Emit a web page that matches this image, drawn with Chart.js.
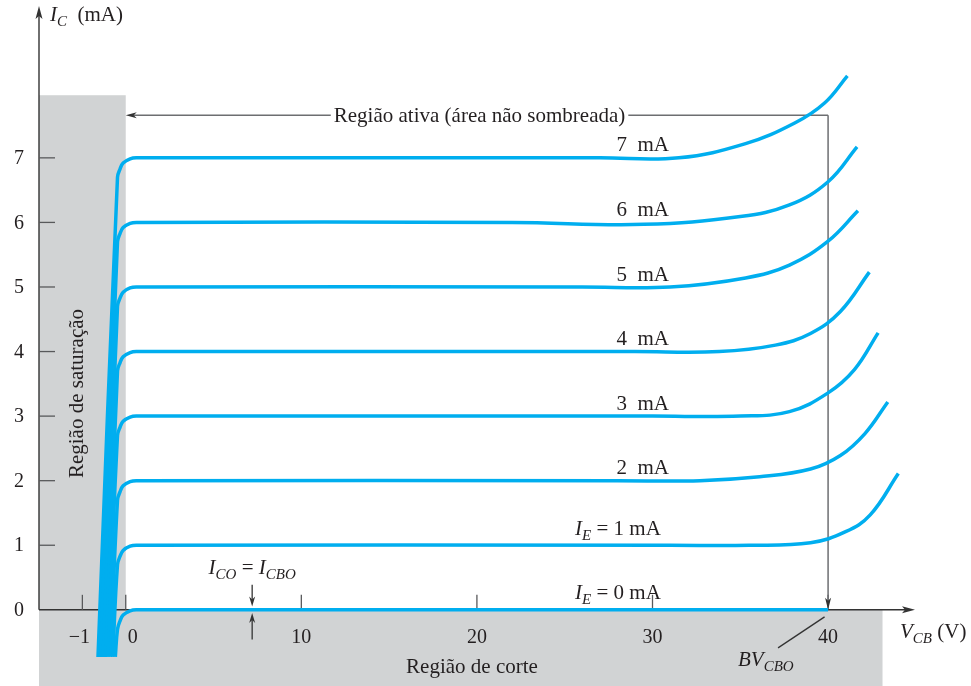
<!DOCTYPE html>
<html>
<head>
<meta charset="utf-8">
<script src="https://cdn.jsdelivr.net/npm/chart.js@4"></script>
<style>
  html, body { margin: 0; padding: 0; background: #fff; }
  #wrap { width: 971px; height: 686px; position: relative; }
</style>
</head>
<body>
<div id="wrap"><canvas id="c"></canvas></div>
<script>
// Common-base output characteristics: I_C (mA) vs V_CB (V), one curve per I_E.
// Each point is [V_CB, I_C].
const IE_LEVELS = [0, 1, 2, 3, 4, 5, 6, 7];

const curveIE0 = [[-0.24,-0.73],[-0.19,-0.30],[-0.13,-0.17],[-0.06,-0.08],[0.25,-0.015],[0.6,0],[40,0]];
const curveIE1 = [[-0.30,-0.73],[-0.19,0.70],[-0.13,0.83],[-0.06,0.92],[0.25,0.985],[0.6,1],[31,1],[35.5,1],[39.0,1.04],[41.0,1.21],[42.4,1.47],[44.0,2.11]];
const curveIE2 = [[-0.35,-0.73],[-0.19,1.70],[-0.13,1.83],[-0.06,1.92],[0.25,1.985],[0.6,2],[28,2],[32.7,2],[36.1,2.06],[39.0,2.18],[40.7,2.39],[42.1,2.73],[43.4,3.22]];
const curveIE3 = [[-0.41,-0.73],[-0.19,2.70],[-0.13,2.83],[-0.06,2.92],[0.25,2.985],[0.6,3],[30,3],[35.0,3],[37.8,3.07],[40.0,3.36],[41.5,3.72],[42.85,4.29]];
const curveIE4 = [[-0.46,-0.73],[-0.19,3.70],[-0.13,3.83],[-0.06,3.92],[0.25,3.985],[0.6,4],[29,4],[33.8,4],[37.0,4.10],[39.0,4.28],[40.7,4.62],[42.35,5.23]];
const curveIE5 = [[-0.52,-0.73],[-0.19,4.70],[-0.13,4.83],[-0.06,4.92],[0.25,4.985],[0.6,5],[26,5],[31.0,5],[35.3,5.14],[37.8,5.34],[40.0,5.71],[41.7,6.18]];
const curveIE6 = [[-0.58,-0.73],[-0.19,5.70],[-0.13,5.83],[-0.06,5.92],[0.25,5.985],[0.6,6],[22,6],[29.5,5.97],[35.0,6.09],[37.8,6.27],[40.0,6.63],[41.65,7.17]];
const curveIE7 = [[-0.64,-0.73],[-0.19,6.70],[-0.13,6.83],[-0.06,6.92],[0.25,6.985],[0.6,7],[27,7],[31.5,7],[35.3,7.22],[38.1,7.54],[39.8,7.85],[41.1,8.27]];
const CURVES = [curveIE0, curveIE1, curveIE2, curveIE3, curveIE4, curveIE5, curveIE6, curveIE7];

const X_TICKS = [-1, 0, 10, 20, 30, 40];
const Y_TICKS = [0, 1, 2, 3, 4, 5, 6, 7];

const SAT_TOP = 7.97;       // shaded saturation block top (mA)
const CUTOFF_RIGHT = 43.1;  // shaded cut-off strip right end (V)
const BV_CBO = 40;          // breakdown voltage (V)
const ICO_AT = 7.2;         // where the I_CO arrows point (V)

// the figure draws the negative V_CB side stretched
const NEG_STRETCH = 2.47;
const toAxis = v => v < 0 ? v * NEG_STRETCH : v;

const BLUE  = '#00aeef';
const SHADE = '#d1d3d4';
const INK   = '#231f20';
const SERIF = '"Liberation Serif", "Times New Roman", serif';

const fontOf = (size, italic) => `${italic ? 'italic ' : ''}${size}px ${SERIF}`;

// parts: [text, style]  style '' normal, 'i' italic, 's' italic subscript
function richText(ctx, parts, x, y, align) {
  const f = p => p[1] === 's' ? fontOf(15, true) : fontOf(21, p[1] === 'i');
  let w = 0;
  parts.forEach(p => { ctx.font = f(p); w += ctx.measureText(p[0]).width; });
  let cx = align === 'center' ? x - w / 2 : align === 'right' ? x - w : x;
  ctx.textAlign = 'left';
  ctx.textBaseline = 'alphabetic';
  parts.forEach(p => {
    ctx.font = f(p);
    ctx.fillText(p[0], cx, y + (p[1] === 's' ? 5 : 0));
    cx += ctx.measureText(p[0]).width;
  });
}

function arrowHead(ctx, x, y, ang, len, half) {
  ctx.save();
  ctx.translate(x, y);
  ctx.rotate(ang);
  ctx.beginPath();
  ctx.moveTo(0, 0);
  ctx.lineTo(-len, -half);
  ctx.lineTo(-len + 3, 0);
  ctx.lineTo(-len, half);
  ctx.closePath();
  ctx.fill();
  ctx.restore();
}

function line(ctx, x1, y1, x2, y2) {
  ctx.beginPath();
  ctx.moveTo(x1, y1);
  ctx.lineTo(x2, y2);
  ctx.stroke();
}

const figurePlugin = {
  id: 'figure',
  beforeDatasetsDraw(chart) {
    const { ctx, chartArea: a, scales } = chart;
    const X = v => scales.x.getPixelForValue(toAxis(v));
    const Y = i => scales.y.getPixelForValue(i);
    ctx.save();

    // shaded regions
    ctx.fillStyle = SHADE;
    ctx.fillRect(a.left, Y(SAT_TOP), X(0) - a.left, Y(0) - Y(SAT_TOP));
    ctx.fillRect(a.left, Y(0), X(CUTOFF_RIGHT) - a.left, a.bottom - Y(0));

    // axes
    ctx.strokeStyle = '#333';
    ctx.fillStyle = '#333';
    ctx.lineWidth = 1.4;
    line(ctx, a.left, Y(0), a.left, a.top);
    arrowHead(ctx, a.left, a.top - 4, -Math.PI / 2, 13, 3.5);
    line(ctx, a.left, Y(0), a.right - 6, Y(0));
    arrowHead(ctx, a.right, Y(0), 0, 13, 3.5);

    // tick marks point into the plot
    ctx.strokeStyle = '#58595b';
    ctx.lineWidth = 1.3;
    Y_TICKS.filter(t => t > 0).forEach(t => line(ctx, a.left, Y(t), a.left + 16, Y(t)));
    X_TICKS.forEach(t => line(ctx, X(t), Y(0), X(t), Y(0) - 15));

    // active region bracket
    ctx.strokeStyle = '#6d6e71';
    ctx.fillStyle = '#333';
    ctx.lineWidth = 1.5;
    const ay = Y(7.66);
    ctx.font = fontOf(21, false);
    const label = 'Região ativa (área não sombreada)';
    const lw = ctx.measureText(label).width;
    const cx = X(20.15);
    line(ctx, X(0) + 8, ay, cx - lw / 2 - 3, ay);
    arrowHead(ctx, X(0), ay, Math.PI, 11, 3);
    line(ctx, cx + lw / 2 + 3, ay, X(BV_CBO), ay);
    line(ctx, X(BV_CBO), ay, X(BV_CBO), Y(0) - 8);
    arrowHead(ctx, X(BV_CBO), Y(0), Math.PI / 2, 12, 3);

    // I_CO arrows
    ctx.strokeStyle = '#333';
    ctx.lineWidth = 1.3;
    line(ctx, X(ICO_AT), Y(0.39), X(ICO_AT), Y(0.12));
    arrowHead(ctx, X(ICO_AT), Y(0.05), Math.PI / 2, 10, 3);
    line(ctx, X(ICO_AT), Y(-0.46), X(ICO_AT), Y(-0.12));
    arrowHead(ctx, X(ICO_AT), Y(-0.05), -Math.PI / 2, 10, 3);

    // BV_CBO leader
    line(ctx, X(39.8), Y(-0.11), X(37.15), Y(-0.59));
    ctx.restore();
  },
  afterDraw(chart) {
    const { ctx, chartArea: a, scales } = chart;
    const X = v => scales.x.getPixelForValue(toAxis(v));
    const Y = i => scales.y.getPixelForValue(i);
    ctx.save();
    ctx.fillStyle = INK;

    // tick labels
    ctx.font = fontOf(20, false);
    ctx.textBaseline = 'middle';
    ctx.textAlign = 'right';
    Y_TICKS.forEach(t => ctx.fillText(String(t), a.left - 15, Y(t) + 1));
    ctx.textBaseline = 'alphabetic';
    X_TICKS.forEach(t => {
      const txt = t < 0 ? '\u2212' + Math.abs(t) : String(t);
      if (t === 0) { ctx.textAlign = 'left'; ctx.fillText(txt, X(t) + 2, Y(0) + 33); }
      else { ctx.textAlign = 'center'; ctx.fillText(txt, X(t) - (t < 0 ? 3 : 0), Y(0) + 33); }
    });

    // axis titles
    richText(ctx, [['I', 'i'], ['C', 's'], ['  (mA)', '']], a.left + 11, 21, 'left');
    richText(ctx, [['V', 'i'], ['CB', 's'], [' (V)', '']], a.right - 15, Y(0) + 28, 'left');

    // region labels
    richText(ctx, [['Região ativa (área não sombreada)', '']], X(20.15), Y(7.66) + 7, 'center');
    richText(ctx, [['Região de corte', '']], X(19.72), Y(-0.976), 'center');
    ctx.save();
    ctx.translate(a.left + 44, Y(3.35));
    ctx.rotate(-Math.PI / 2);
    richText(ctx, [['Região de saturação', '']], 0, 0, 'center');
    ctx.restore();

    // curve labels
    IE_LEVELS.forEach(n => {
      if (n <= 1) {
        richText(ctx, [['I', 'i'], ['E', 's'], [` = ${n} mA`, '']], X(25.59), Y(n + 0.16), 'left');
      } else {
        richText(ctx, [[`${n}  mA`, '']], X(27.95), Y(n + 0.1), 'left');
      }
    });

    richText(ctx, [['I', 'i'], ['CO', 's'], [' = ', ''], ['I', 'i'], ['CBO', 's']], X(ICO_AT), Y(0.56), 'center');
    richText(ctx, [['BV', 'i'], ['CBO', 's']], X(34.87), Y(-0.867), 'left');
    ctx.restore();
  }
};

new Chart(document.getElementById('c'), {
  type: 'scatter',
  data: {
    datasets: CURVES.map((pts, i) => ({
      label: `IE = ${IE_LEVELS[i]} mA`,
      data: pts.map(([v, ic]) => ({ x: toAxis(v), y: ic })),
      showLine: true,
      borderColor: BLUE,
      borderWidth: 3.5,
      borderJoinStyle: 'round',
      pointRadius: 0,
      tension: 0.4,
    })),
  },
  options: {
    responsive: true,
    maintainAspectRatio: false,
    animation: false,
    layout: { padding: { left: 39, right: 56, top: 10, bottom: 0 } },
    plugins: { legend: { display: false }, tooltip: { enabled: false } },
    scales: {
      x: { type: 'linear', display: false, min: -4.94, max: 44.95 },
      y: { type: 'linear', display: false, min: -1.18, max: 9.29 },
    },
  },
  plugins: [figurePlugin],
});
</script>
</body>
</html>
